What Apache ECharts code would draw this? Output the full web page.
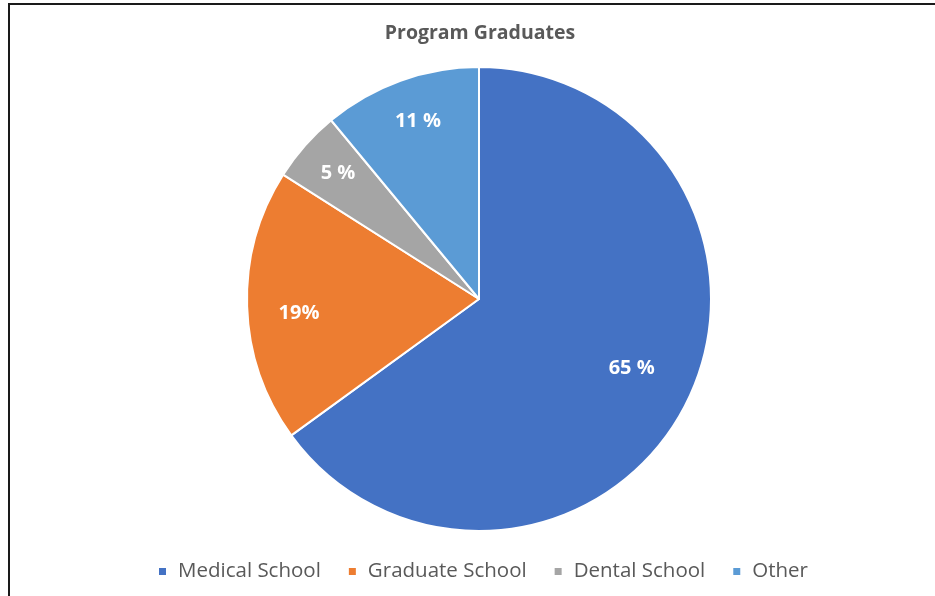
<!DOCTYPE html>
<html>
<head>
<meta charset="utf-8">
<script src="https://cdn.jsdelivr.net/npm/echarts@6/dist/echarts.min.js"></script>
<style>
html,body{margin:0;padding:0;background:#fff;}
#main{width:935px;height:596px;}
</style>
</head>
<body>
<div id="main"></div>
<script>
var categories = ['Medical School', 'Graduate School', 'Dental School', 'Other'];
var values = [65, 19, 5, 11];
var labelTexts = ['65 %', '19%', '5 %', '11 %'];
var colors = ['#4472C4', '#ED7D31', '#A5A5A5', '#5B9BD5'];

// label placement styling: radial fraction and small angular tweak (degrees)
var labelPlacement = {
  radiusFrac: [0.71, 0.765, 0.80, 0.795],
  angleTweak: [-2.6, -2.7, 0.2, 0.8]
};

var R = 232;
var total = values.reduce(function(a, b){ return a + b; }, 0);
var cum = 0;
var data = categories.map(function(name, i){
  var midDeg = (cum + values[i] / 2) / total * 360;
  cum += values[i];
  var target = (midDeg + labelPlacement.angleTweak[i]) * Math.PI / 180;
  var mid = midDeg * Math.PI / 180;
  var fr = labelPlacement.radiusFrac[i] * R, base = 0.5 * R;
  return {
    name: name,
    value: values[i],
    itemStyle: { color: colors[i] },
    label: { offset: [fr * Math.sin(target) - base * Math.sin(mid), -(fr * Math.cos(target) - base * Math.cos(mid))] }
  };
});

var chart = echarts.init(document.getElementById('main'), null, { renderer: 'canvas' });
chart.setOption({
  backgroundColor: '#ffffff',
  animation: false,
  title: {
    text: 'Program Graduates',
    left: 475,
    textAlign: 'center',
    top: 18,
    textStyle: { fontFamily: 'Open Sans', fontSize: 19.5, fontWeight: 'bold', color: '#595959' }
  },
  legend: {
    bottom: 9,
    left: 152,
    icon: 'rect',
    itemWidth: 9,
    itemHeight: 9,
    itemGap: 26,
    textStyle: { fontFamily: 'Open Sans', fontSize: 20.5, color: '#595959', padding: [0, 0, 0, 6] },
    data: categories
  },
  graphic: [{
    type: 'polyline',
    shape: { points: [[9, 600], [9, 4], [940, 4]] },
    style: { stroke: '#1a1a1a', lineWidth: 2, fill: null },
    silent: true
  }],
  series: [{
    type: 'pie',
    center: [479, 299],
    radius: [0, R],
    startAngle: 90,
    clockwise: true,
    avoidLabelOverlap: false,
    itemStyle: { borderColor: '#ffffff', borderWidth: 2 },
    label: {
      show: true,
      position: 'inside',
      formatter: function(p){ return labelTexts[p.dataIndex]; },
      fontFamily: 'Open Sans',
      fontSize: 20,
      fontWeight: 'bold',
      color: '#ffffff'
    },
    labelLine: { show: false },
    emphasis: { disabled: true },
    data: data
  }]
});
</script>
</body>
</html>
